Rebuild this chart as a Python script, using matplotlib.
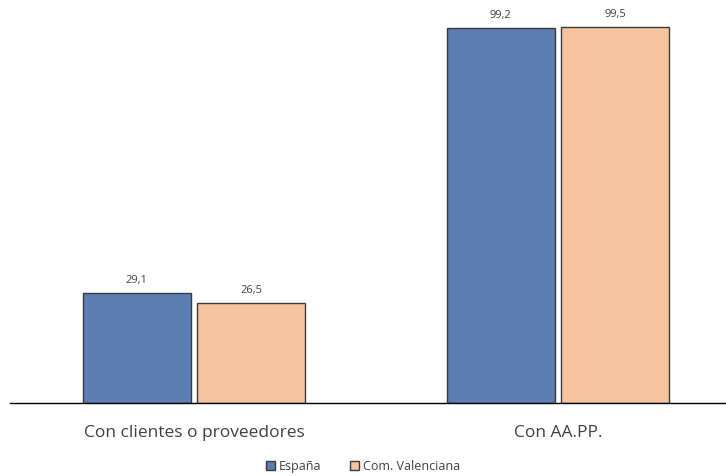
import matplotlib
matplotlib.use('Agg')
import matplotlib.pyplot as plt
import numpy as np

categories = ['Con clientes o proveedores', 'Con AA.PP.']
series_names = ['España', 'Com. Valenciana']
espana = [29.1, 99.2]
valenciana = [26.5, 99.5]

colors = ['#5B7DB1', '#F7C39F']

plt.rcParams['font.family'] = ['Open Sans', 'DejaVu Sans']

fig = plt.figure(figsize=(7.26, 4.77), dpi=100)
ax = fig.add_axes([10 / 726, 73 / 477, 716 / 726, 404 / 477])

x = np.arange(len(categories))
width = 0.297
offset = 0.157

for vals, dx, color, name in [(espana, -offset, colors[0], series_names[0]),
                              (valenciana, offset, colors[1], series_names[1])]:
    bars = ax.bar(x + dx, vals, width, color=color, edgecolor='#3a3a3a',
                  linewidth=1.0, label=name)
    for b, v in zip(bars, vals):
        ax.text(b.get_x() + b.get_width() / 2, v + 2.2, f'{v:.1f}'.replace('.', ','),
                ha='center', va='bottom', fontsize=8, color='#404040')

ax.set_xlim(-0.5055, 1.4615)
ax.set_ylim(0, 106.9)
ax.set_xticks(x)
ax.set_xticklabels(categories, fontsize=12.5, color='#404040')
ax.tick_params(axis='x', length=0, pad=15)
ax.set_yticks([])
for s in ['top', 'right', 'left']:
    ax.spines[s].set_visible(False)
ax.spines['bottom'].set_color('#000000')
ax.spines['bottom'].set_linewidth(1.0)

leg = fig.legend(loc='center', bbox_to_anchor=(0.5, 10 / 477), ncol=2, frameon=False,
                 fontsize=9, handlelength=0.7, handleheight=0.7, handletextpad=0.3,
                 columnspacing=2.3)
for t in leg.get_texts():
    t.set_color('#404040')

fig.savefig('out.png', dpi=100)
